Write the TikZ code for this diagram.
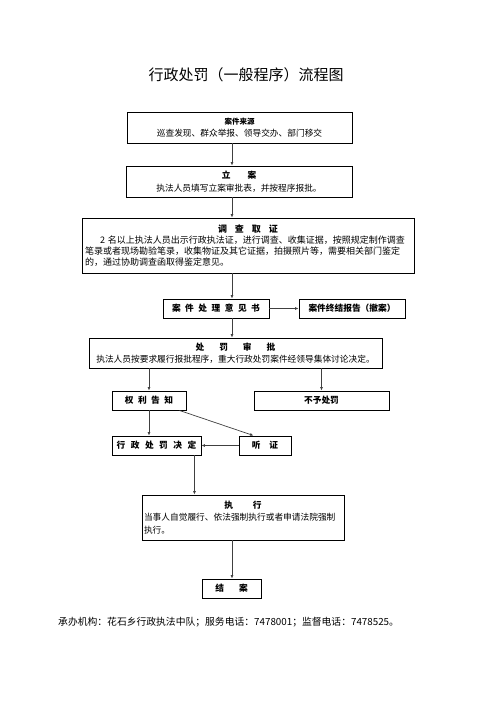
\documentclass[tikz,border=0pt]{standalone}
\usepackage{fontspec}
\setmainfont{Noto Sans CJK SC}
\usetikzlibrary{arrows.meta}
\begin{document}
\begin{tikzpicture}[x=1pt,y=-1pt,
    box/.style={draw,line width=0.9pt,inner sep=1.5pt,align=center,
      font=\fontsize{8.7}{12.5}\selectfont},
    arr/.style={-{Latex[length=3.5pt,width=3pt]},line width=0.7pt,draw=black!75}]
    \useasboundingbox (0,0) rectangle (496,702);
    \node[font=\fontsize{15}{18}\selectfont] (title) at (246,75) {行政处罚（一般程序）流程图};
    % main column
    \node[box,minimum width=225pt,minimum height=31pt] (src) at (239.5,127.5)
      {{\fontsize{7.5}{9}\selectfont\bfseries 案件来源}\\巡查发现、群众举报、领导交办、部门移交};
    \node[box,minimum width=226pt,minimum height=31pt] (lian) at (239,181.5)
      {\textbf{立\hspace{17pt}案}\\执法人员填写立案审批表，并按程序报批。};
    \node[box,minimum width=332pt,minimum height=55pt,text width=326pt,align=left,
      font=\fontsize{9}{10.8}\selectfont] (diaocha) at (248,245.5)
      {\makebox[\linewidth]{\textbf{调\hspace{8pt}查\hspace{8pt}取\hspace{8pt}证}}\\
       \hspace*{15pt}2 名以上执法人员出示行政执法证，进行调查、收集证据，按照规定制作调查\\
       笔录或者现场勘验笔录，收集物证及其它证据，拍摄照片等，需要相关部门鉴定\\
       的，通过协助调查函取得鉴定意见。};
    \node[box,minimum width=106pt,minimum height=19pt] (yijian) at (216,308.5)
      {\textbf{案\hspace{4.5pt}件\hspace{4.5pt}处\hspace{4.5pt}理\hspace{4.5pt}意\hspace{4.5pt}见\hspace{4.5pt}书}};
    \node[box,minimum width=106pt,minimum height=19pt] (jiean) at (352,308.5)
      {\textbf{案件终结报告（撤案）}};
    \node[box,minimum width=293pt,minimum height=30pt] (shenpi) at (235.5,353)
      {\textbf{处\hspace{15pt}罚\hspace{15pt}审\hspace{15pt}批}\\执法人员按要求履行报批程序，重大行政处罚案件经领导集体讨论决定。};
    \node[box,minimum width=74pt,minimum height=19pt] (quanli) at (149,400.5)
      {\textbf{权\hspace{4.5pt}利\hspace{4.5pt}告\hspace{4.5pt}知}};
    \node[box,minimum width=135pt,minimum height=19pt] (buyu) at (321.5,400.5)
      {\textbf{不予处罚}};
    \node[box,minimum width=89pt,minimum height=19pt] (jueding) at (156.5,445.5)
      {\textbf{行\hspace{5.5pt}政\hspace{5.5pt}处\hspace{5.5pt}罚\hspace{5.5pt}决\hspace{5.5pt}定}};
    \node[box,minimum width=52pt,minimum height=19pt] (tingzheng) at (265,445.5)
      {\textbf{听\hspace{9pt}证}};
    \node[box,minimum width=202pt,minimum height=45pt,text width=198pt,align=left] (zhixing) at (243,517.5)
      {\makebox[\linewidth]{\textbf{执\hspace{20pt}行}}\\
       当事人自觉履行、依法强制执行或者申请法院强制\\执行。};
    \node[box,minimum width=59pt,minimum height=19pt] (jiean2) at (231.5,588.5)
      {\textbf{结\hspace{15pt}案}};
    \node[anchor=west,inner sep=0pt,font=\fontsize{9.8}{12}\selectfont] (footer) at (58,622)
      {承办机构：花石乡行政执法中队；服务电话：7478001；监督电话：7478525。};
    % connectors
    \coordinate (trunk) at (232,0);
    \draw[arr] (src.south -| trunk) -- (lian.north -| trunk);
    \draw[arr] (lian.south -| trunk) -- (diaocha.north -| trunk);
    \draw[arr] (diaocha.south -| trunk) -- (yijian.north -| trunk);
    \draw[arr] (yijian.east) -- (jiean.west);
    \draw[arr] (yijian.south -| trunk) -- (shenpi.north -| trunk);
    \draw[arr] (shenpi.south -| quanli) -- (quanli.north);
    \draw[arr] (shenpi.south -| buyu) -- (buyu.north);
    \draw[arr] (quanli.south) -- (quanli.south |- jueding.north);
    \draw[arr] ([xshift=-7pt]quanli.south east) -- ([xshift=15pt]tingzheng.north west);
    \draw[arr] (tingzheng.west) -- (jueding.east);
    \draw[arr] ([xshift=-7pt]jueding.south east) -- ([xshift=-7pt]jueding.south east |- zhixing.north);
    \draw[arr] (zhixing.south -| trunk) -- (jiean2.north -| trunk);
\end{tikzpicture}
\end{document}
